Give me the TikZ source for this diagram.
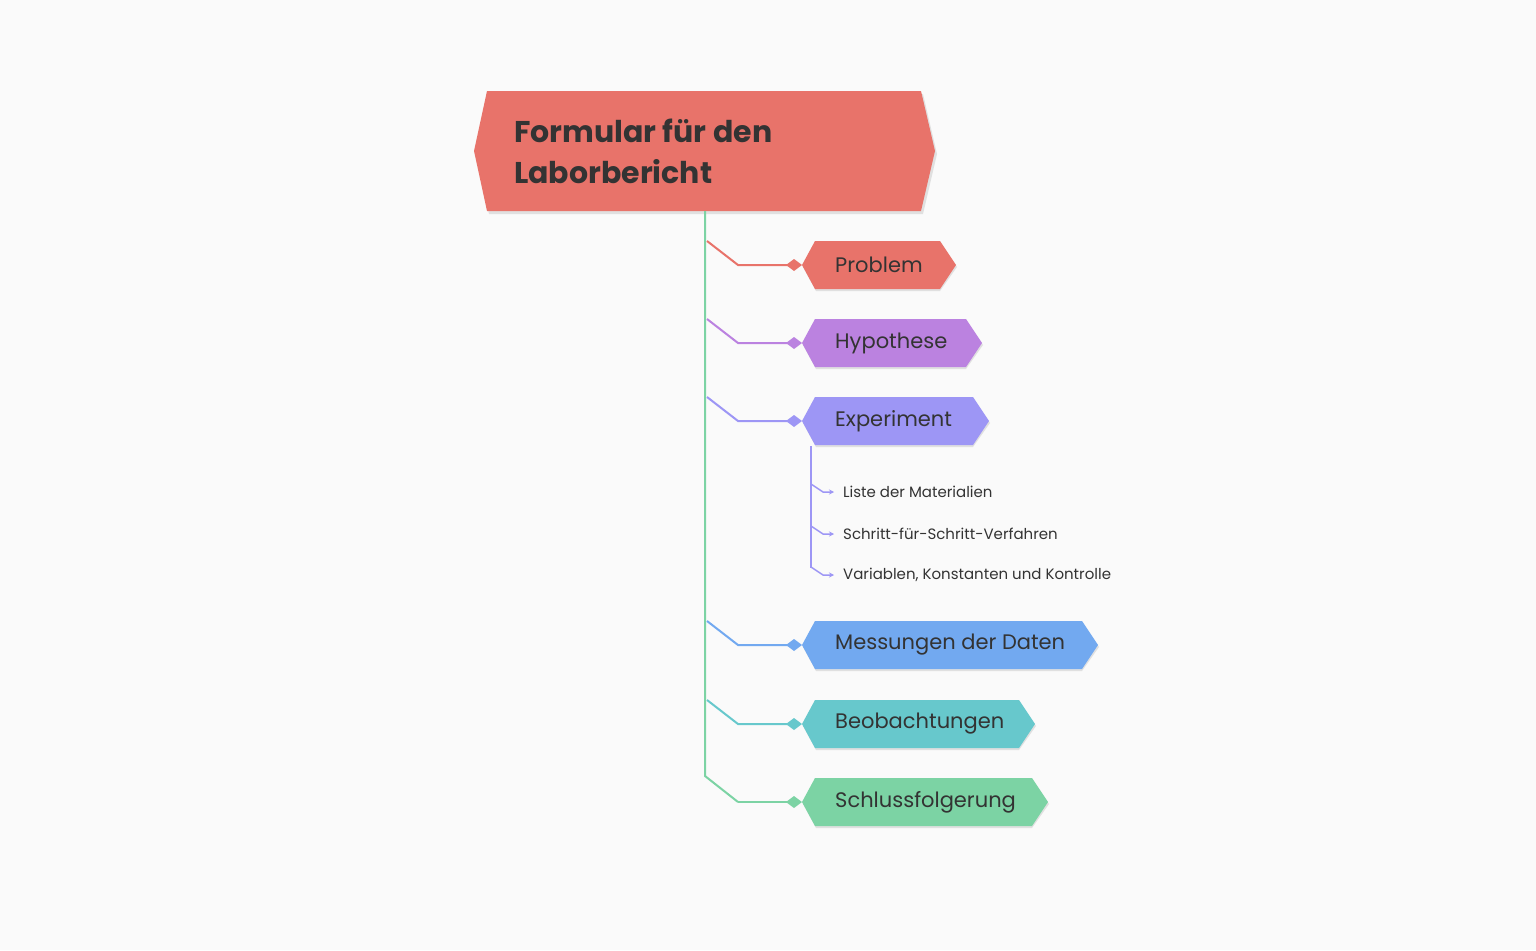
\documentclass[tikz,border=0pt]{standalone}
\usepackage{fontspec}
\setmainfont{Poppins}
\usetikzlibrary{arrows.meta}
\definecolor{cred}{HTML}{E8736A}
\definecolor{cpur}{HTML}{BB82E0}
\definecolor{clav}{HTML}{9D96F5}
\definecolor{cblu}{HTML}{72A9F0}
\definecolor{ctea}{HTML}{67C8CC}
\definecolor{cgrn}{HTML}{7CD3A4}
\definecolor{ctxt}{HTML}{333333}
\tikzset{
 conn/.style={line width=2pt},
 dia/.style={fill, draw=none},
 lbl/.style={anchor=west, inner sep=0pt, text=ctxt, font=\fontsize{21}{24}\selectfont},
 sub/.style={anchor=west, inner sep=0pt, text=ctxt, font=\fontsize{15}{18}\selectfont},
}
\newcommand{\hexb}[4]{% y, right x, color, name
 \fill[black!12] (803,#1+2) -- (816,#1-22) -- (#2-16,#1-22) -- (#2+1,#1+2) -- (#2-16,#1+26) -- (816,#1+26) -- cycle;
 \fill[#3] (802,#1) -- (815,#1-24) -- (#2-16,#1-24) -- (#2,#1) -- (#2-16,#1+24) -- (815,#1+24) -- cycle;
 \coordinate (#4) at (794,#1);
 \fill[#3] (786,#1) -- (794,#1-6) -- (802,#1) -- (794,#1+6) -- cycle;
}
\begin{document}
\begin{tikzpicture}[x=1pt,y=-1pt]
\fill[white!98!black] (0,0) rectangle (1536,950);
\useasboundingbox (0,0) rectangle (1536,950);
% title
\fill[black!12] (489,94) -- (923,94) -- (937,154) -- (923,214) -- (489,214) -- (476,154) -- cycle;
\fill[cred] (487,91) -- (921,91) -- (935,151) -- (921,211) -- (487,211) -- (474,151) -- cycle;
\node[anchor=west, align=left, inner sep=0pt, text=ctxt, font=\bfseries\fontsize{30}{41}\selectfont] (title) at (514,151) {Formular für den\\Laborbericht};
\coordinate (root) at (705,211);
% trunk
\draw[conn,cgrn] (root) -- (705,776) -- (738,802) coordinate (tend);
% children
\hexb{265}{956}{cred}{d1}
\hexb{343}{982}{cpur}{d2}
\hexb{421}{989}{clav}{d3}
\hexb{645}{1098}{cblu}{d4}
\hexb{724}{1035}{ctea}{d5}
\hexb{802}{1048}{cgrn}{d6}
\node[lbl] (n1) at (835,265) {Problem};
\node[lbl] (n2) at (835,343) {Hypothese};
\node[lbl] (n3) at (835,421) {Experiment};
\node[lbl] (n4) at (835,645) {Messungen der Daten};
\node[lbl] (n5) at (835,724) {Beobachtungen};
\node[lbl] (n6) at (835,802) {Schlussfolgerung};
\draw[conn,cred] (707,241) -- (738,265) -- (d1);
\draw[conn,cpur] (707,319) -- (738,343) -- (d2);
\draw[conn,clav] (707,397) -- (738,421) -- (d3);
\draw[conn,cblu] (707,621) -- (738,645) -- (d4);
\draw[conn,ctea] (707,700) -- (738,724) -- (d5);
\draw[conn,cgrn] (tend) -- (d6);
% experiment sub
\node[sub] (s1) at (843,492) {Liste der Materialien};
\node[sub] (s2) at (843,534) {Schritt-für-Schritt-Verfahren};
\node[sub] (s3) at (843,575) {Variablen, Konstanten und Kontrolle};
\draw[line width=1.5pt,clav] (811,446) -- (811,568);
\foreach \y/\n in {492/s1,534/s2,575/s3}{
 \draw[line width=1.5pt,clav,-{Stealth[length=5pt,width=5pt]}] (811,\y-8) -- (823,\y) -- (834,\y);
}
\end{tikzpicture}
\end{document}
